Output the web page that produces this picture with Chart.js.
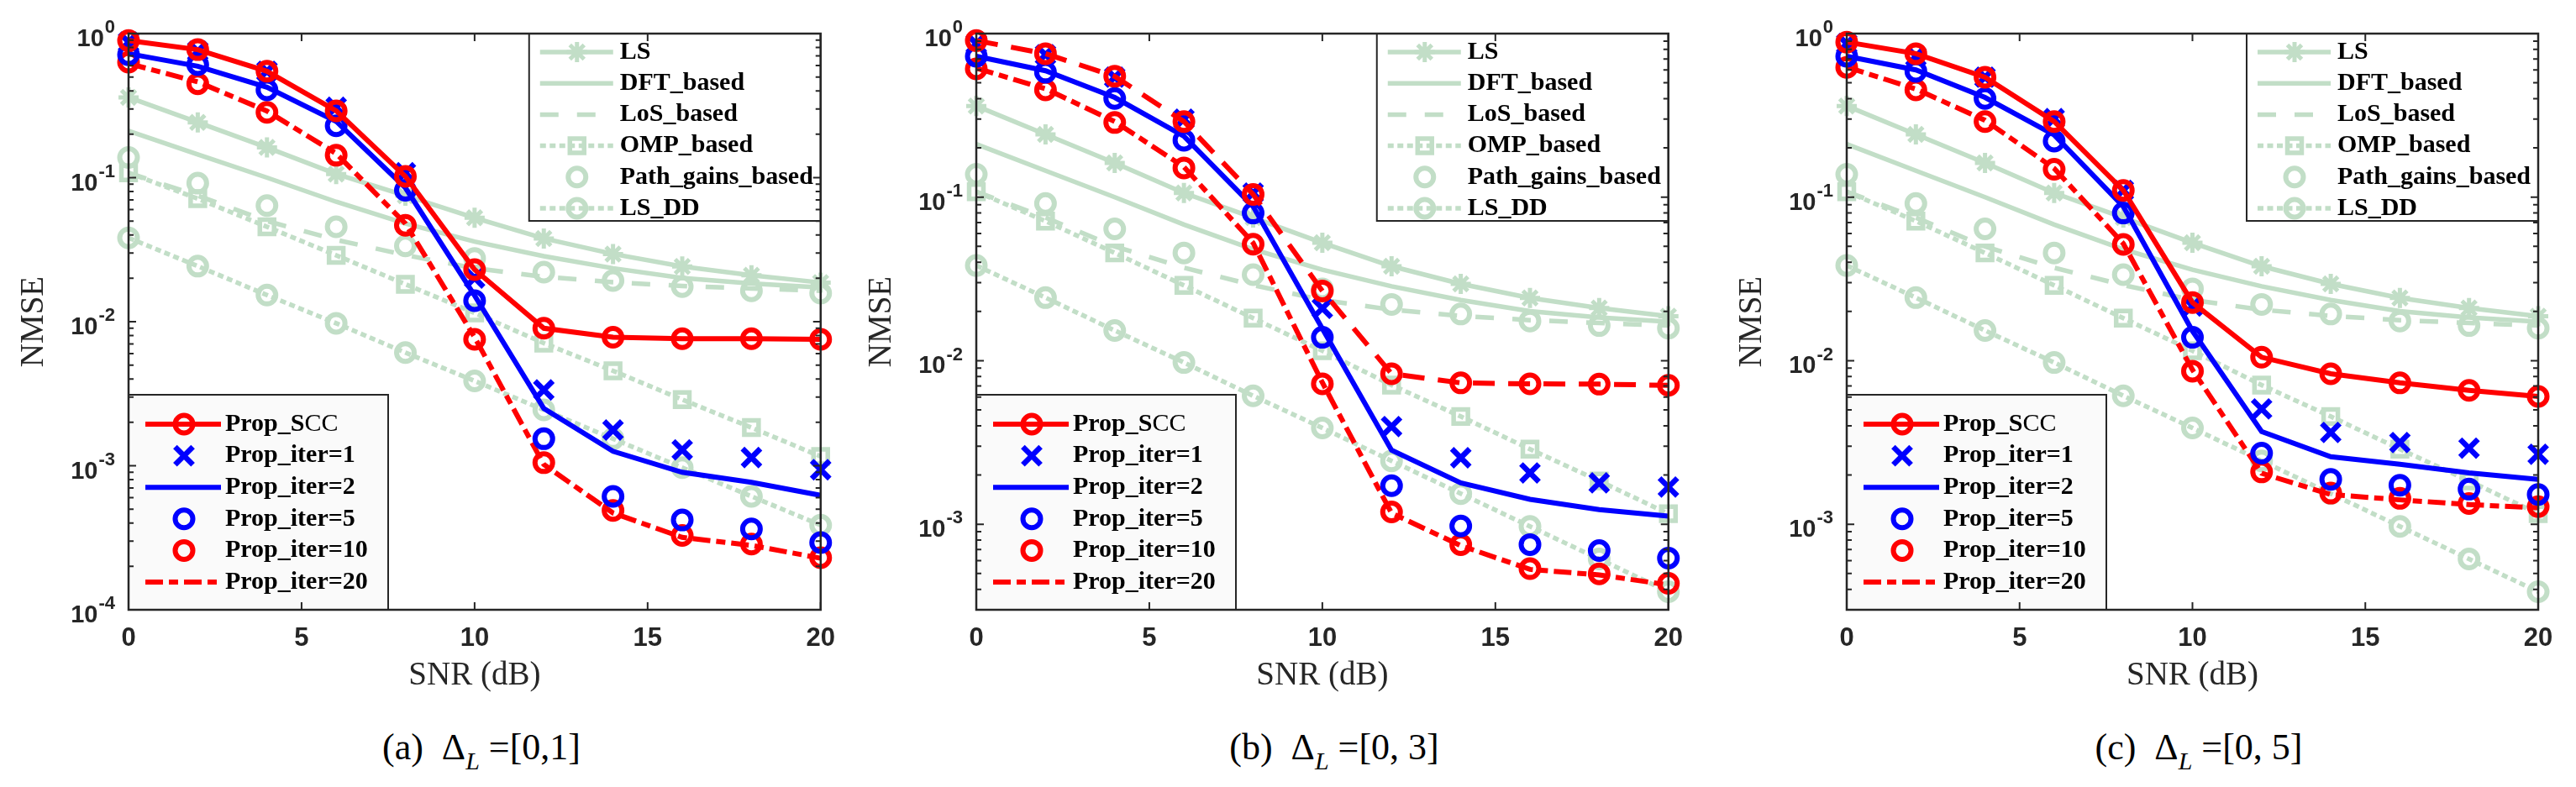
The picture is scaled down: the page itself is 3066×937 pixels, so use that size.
<!DOCTYPE html>
<html>
<head>
<meta charset="utf-8">
<title>NMSE versus SNR</title>
<script src="https://cdn.jsdelivr.net/npm/chart.js@4.4.1/dist/chart.umd.min.js"></script>
<style>
    html, body { margin: 0; padding: 0; background: #ffffff; }
    body { position: relative; width: 3066px; height: 937px; overflow: hidden; }
    .panel { position: absolute; top: 0; width: 1010px; height: 840px; }
    .caption {
        position: absolute;
        top: 866px;
        transform: translateX(-50%);
        font-family: "Liberation Serif", serif;
        font-size: 44px;
        line-height: 48px;
        color: #000000;
        white-space: pre;
    }
    .caption sub { font-size: 30px; font-style: italic; vertical-align: -12px; line-height: 0; }
</style>
</head>
<body>
<div class="panel" id="panel-a"><canvas id="chart-a" width="1010" height="840"></canvas></div>
<div class="panel" id="panel-b"><canvas id="chart-b" width="1010" height="840"></canvas></div>
<div class="panel" id="panel-c"><canvas id="chart-c" width="1010" height="840"></canvas></div>

<script>
// SNR axis (dB)
const snrDb = [0, 2, 4, 6, 8, 10, 12, 14, 16, 18, 20];

// Baselines (same curves in every panel)
const nmseLS        = [0.361, 0.242, 0.162, 0.106, 0.075, 0.0526, 0.0378, 0.0295, 0.0242, 0.0210, 0.0187];
const nmseDFT       = [0.211, 0.145, 0.100, 0.068, 0.048, 0.036, 0.0285, 0.0235, 0.0201, 0.0184, 0.0173];
const nmseLoS       = [0.108, 0.075, 0.050, 0.037, 0.029, 0.0235, 0.0205, 0.0188, 0.0177, 0.0170, 0.0164];
const nmseOMP       = [0.108, 0.0714, 0.0456, 0.0289, 0.0182, 0.0115, 0.0071, 0.00456, 0.00288, 0.00184, 0.00116];
const nmsePathGains = [0.138, 0.0915, 0.0640, 0.0456, 0.0336, 0.0275, 0.0221, 0.0193, 0.0175, 0.0164, 0.0158];
const nmseLSDD      = [0.0382, 0.0243, 0.0153, 0.00975, 0.0061, 0.00388, 0.00244, 0.00154, 0.00097, 0.000613, 0.000387];

// Panel (a): Delta_L = [0,1]
const sccA    = [0.894, 0.774, 0.548, 0.291, 0.102, 0.0230, 0.00901, 0.00780, 0.00762, 0.00762, 0.00755];
const iter1A  = [0.873, 0.755, 0.548, 0.308, 0.108, 0.0201, 0.00336, 0.00177, 0.00129, 0.00114, 0.000938];
const iter2A  = [0.726, 0.594, 0.424, 0.246, 0.0851, 0.0152, 0.00250, 0.00126, 0.000901, 0.000767, 0.000623];
const iter5A  = [0.714, 0.608, 0.407, 0.229, 0.0818, 0.0140, 0.00154, 0.000613, 0.000420, 0.000364, 0.000293];
const iter10A = [0.633, 0.449, 0.284, 0.143, 0.0467, 0.00755, 0.00105, 0.000490, 0.000328, 0.000286, 0.000230];
const iter20A = [0.620, 0.462, 0.290, 0.147, 0.0480, 0.00780, 0.00102, 0.000470, 0.000318, 0.000280, 0.000228];

// Panel (b): Delta_L = [0,3]
const sccB    = [0.906, 0.754, 0.548, 0.290, 0.104, 0.0267, 0.00832, 0.00732, 0.00722, 0.00719, 0.00707];
const iter1B  = [0.868, 0.743, 0.541, 0.300, 0.106, 0.0209, 0.00396, 0.00255, 0.00206, 0.00179, 0.00169];
const iter2B  = [0.727, 0.593, 0.407, 0.236, 0.0877, 0.0157, 0.00284, 0.00179, 0.00142, 0.00123, 0.00112];
const iter5B  = [0.727, 0.580, 0.401, 0.223, 0.0800, 0.0139, 0.00172, 0.000976, 0.000751, 0.000690, 0.000621];
const iter10B = [0.609, 0.453, 0.286, 0.151, 0.0516, 0.00722, 0.00119, 0.000751, 0.000535, 0.000498, 0.000435];
const iter20B = [0.615, 0.460, 0.290, 0.153, 0.0525, 0.00735, 0.00117, 0.000740, 0.000530, 0.000490, 0.000426];

// Panel (c): Delta_L = [0,5]
const sccC    = [0.887, 0.754, 0.541, 0.290, 0.110, 0.0227, 0.0105, 0.00832, 0.00732, 0.00659, 0.00605];
const iter1C  = [0.868, 0.727, 0.541, 0.302, 0.110, 0.0216, 0.00507, 0.00364, 0.00316, 0.00292, 0.00268];
const iter2C  = [0.727, 0.600, 0.407, 0.240, 0.0877, 0.0152, 0.00369, 0.00259, 0.00233, 0.00206, 0.00188];
const iter5C  = [0.727, 0.588, 0.401, 0.220, 0.0800, 0.0139, 0.00272, 0.00188, 0.00173, 0.00164, 0.00152];
const iter10C = [0.622, 0.453, 0.290, 0.148, 0.0514, 0.00863, 0.00209, 0.00155, 0.00144, 0.00134, 0.00128];
const iter20C = [0.625, 0.458, 0.295, 0.150, 0.0520, 0.00880, 0.00205, 0.00152, 0.00141, 0.00132, 0.00126];

// Axis ranges, tick labels and captions
const yMinByPanel = [1e-4, 3e-4, 3e-4];
const yMax = 1;
const yTickExponents = [-4, -3, -2, -1, 0];
const captionTags = ['(a)', '(b)', '(c)'];
const captionRanges = ['[0,1]', '[0, 3]', '[0, 5]'];

const GREEN = 'rgb(194, 222, 199)';
const RED = '#ff0000';
const BLUE = '#0000ff';
const INK = '#262626';
const NONE = 'rgba(0,0,0,0)';

/**
 * Turn a value list into {x, y} points on the SNR axis
 */
function series(values) {
    return snrDb.map((snr, i) => ({ x: snr, y: values[i] }));
}

/**
 * Light green reference curves
 */
function baselineDatasets() {
    const common = {
        borderColor: GREEN,
        pointBorderColor: GREEN,
        pointBackgroundColor: NONE,
        borderWidth: 5.5,
        pointRadius: 0,
        order: 2,
        clip: false
    };
    return [
        { ...common, label: 'LS', data: series(nmseLS), pointStyle: 'star', pointRadius: 12, pointBorderWidth: 5 },
        { ...common, label: 'DFT_based', data: series(nmseDFT) },
        { ...common, label: 'LoS_based', data: series(nmseLoS), borderDash: [22, 22] },
        { ...common, label: 'OMP_based', data: series(nmseOMP), borderDash: [7, 4.5], pointStyle: 'rect', pointRadius: 12, pointBorderWidth: 5.5 },
        { ...common, label: 'Path_gains_based', data: series(nmsePathGains), showLine: false, pointStyle: 'circle', pointRadius: 10.5, pointBorderWidth: 6 },
        { ...common, label: 'LS_DD', data: series(nmseLSDD), borderDash: [7, 4.5], pointStyle: 'circle', pointRadius: 10.5, pointBorderWidth: 6 }
    ];
}

/**
 * Proposed-method curves for one panel
 */
function proposedDatasets(scc, it1, it2, it5, it10, it20, sccDash) {
    const common = { pointBackgroundColor: NONE, borderWidth: 6, pointRadius: 0, order: 1, clip: false };
    return [
        { ...common, label: 'Prop_SCC', legendParts: [['Prop_S', 'bold'], ['CC', 'normal']], data: series(scc),
          borderColor: RED, pointBorderColor: RED, borderDash: sccDash, legendDash: [],
          pointStyle: 'circle', pointRadius: 10.5, pointBorderWidth: 6 },
        { ...common, label: 'Prop_iter=1', data: series(it1), showLine: false, borderColor: BLUE, pointBorderColor: BLUE,
          pointStyle: 'crossRot', pointRadius: 15, pointBorderWidth: 6.5 },
        { ...common, label: 'Prop_iter=2', data: series(it2), borderColor: BLUE },
        { ...common, label: 'Prop_iter=5', data: series(it5), showLine: false, borderColor: BLUE, pointBorderColor: BLUE,
          pointStyle: 'circle', pointRadius: 10.5, pointBorderWidth: 6 },
        { ...common, label: 'Prop_iter=10', data: series(it10), showLine: false, borderColor: RED, pointBorderColor: RED,
          pointStyle: 'circle', pointRadius: 10.5, pointBorderWidth: 6 },
        { ...common, label: 'Prop_iter=20', data: series(it20), borderColor: RED, borderDash: [21, 7, 11, 7] }
    ];
}

/**
 * Legend boxes drawn inside the plot area (MATLAB style)
 */
const boxLegend = {
    id: 'boxLegend',
    afterDatasetsDraw(chart, args, opts) {
        const { ctx, chartArea: area } = chart;
        opts.boxes.forEach(box => {
            const left = box.anchor === 'topRight' ? area.right - box.width : area.left;
            const top = box.anchor === 'topRight' ? area.top : area.bottom - box.height;
            ctx.save();
            ctx.fillStyle = box.background;
            ctx.fillRect(left, top, box.width, box.height);
            ctx.strokeStyle = INK;
            ctx.lineWidth = 2;
            ctx.strokeRect(left, top, box.width, box.height);

            box.items.forEach((idx, row) => {
                const ds = chart.data.datasets[idx];
                const cy = top + box.firstRow + row * box.rowGap;
                // sample line
                if (ds.showLine !== false) {
                    ctx.save();
                    ctx.strokeStyle = ds.borderColor;
                    ctx.lineWidth = ds.borderWidth;
                    ctx.setLineDash(ds.legendDash || ds.borderDash || []);
                    ctx.beginPath();
                    ctx.moveTo(left + box.lineFrom, cy);
                    ctx.lineTo(left + box.lineTo, cy);
                    ctx.stroke();
                    ctx.restore();
                }
                // sample marker
                if (ds.pointRadius > 0) {
                    ctx.save();
                    ctx.setLineDash([]);
                    ctx.strokeStyle = ds.pointBorderColor;
                    ctx.fillStyle = NONE;
                    ctx.lineWidth = ds.pointBorderWidth;
                    Chart.helpers.drawPoint(ctx, {
                        pointStyle: ds.pointStyle,
                        radius: ds.pointRadius,
                        borderWidth: ds.pointBorderWidth,
                        rotation: 0
                    }, left + box.markerAt, cy);
                    ctx.restore();
                }
                // label text
                const parts = ds.legendParts || [[ds.label, 'bold']];
                let tx = left + box.textAt;
                ctx.fillStyle = '#000000';
                ctx.textBaseline = 'middle';
                ctx.textAlign = 'left';
                parts.forEach(([text, weight]) => {
                    ctx.font = `${weight} 30px "Liberation Serif"`;
                    ctx.fillText(text, tx, cy);
                    tx += ctx.measureText(text).width;
                });
            });
            ctx.restore();
        });
    }
};

/**
 * Axes box, inward ticks and 10^n tick labels
 */
const axesFrame = {
    id: 'axesFrame',
    afterDraw(chart) {
        const { ctx, chartArea: area, scales: { x, y } } = chart;
        ctx.save();
        ctx.strokeStyle = INK;
        ctx.lineWidth = 2;
        ctx.beginPath();
        // x ticks, bottom and top
        x.ticks.forEach(t => {
            const px = x.getPixelForValue(t.value);
            ctx.moveTo(px, area.bottom); ctx.lineTo(px, area.bottom - 9);
            ctx.moveTo(px, area.top); ctx.lineTo(px, area.top + 9);
        });
        // y ticks (major and minor), left and right
        for (let e = -5; e <= 0; e++) {
            for (let m = 1; m <= 9; m++) {
                const v = m * Math.pow(10, e);
                if (v < y.min * 0.999 || v > y.max * 1.001) continue;
                const py = y.getPixelForValue(v);
                const len = m === 1 ? 9 : 6;
                ctx.moveTo(area.left, py); ctx.lineTo(area.left + len, py);
                ctx.moveTo(area.right, py); ctx.lineTo(area.right - len, py);
            }
        }
        ctx.stroke();
        ctx.lineWidth = 2.5;
        ctx.strokeRect(area.left, area.top, area.right - area.left, area.bottom - area.top);

        // y tick labels: "10" with a raised exponent
        ctx.fillStyle = INK;
        ctx.textBaseline = 'middle';
        ctx.textAlign = 'right';
        yTickExponents.forEach(e => {
            const v = Math.pow(10, e);
            if (v < y.min * 0.999 || v > y.max * 1.001) return;
            const py = y.getPixelForValue(v);
            const expText = String(e);
            ctx.font = 'bold 22px "Liberation Sans"';
            const expRight = area.left - 16;
            ctx.fillText(expText, expRight, py - 7);
            const expWidth = ctx.measureText(expText).width;
            ctx.font = 'bold 29px "Liberation Sans"';
            ctx.fillText('10', expRight - expWidth - 1, py + 7);
        });
        ctx.restore();
    }
};

/**
 * Build one subplot
 */
function makePanel(canvasId, plotLeft, plotWidth, yMin, datasets) {
    const canvas = document.getElementById(canvasId);
    const holder = canvas.parentElement;
    holder.style.left = (plotLeft - 153) + 'px';

    new Chart(canvas, {
        type: 'line',
        data: { datasets },
        plugins: [boxLegend, axesFrame],
        options: {
            responsive: false,
            animation: false,
            events: [],
            layout: {
                autoPadding: false,
                padding: { left: 0, top: 40, right: 1010 - 153 - plotWidth, bottom: 0 }
            },
            elements: { line: { tension: 0 } },
            scales: {
                x: {
                    type: 'linear',
                    min: 0,
                    max: 20,
                    grid: { display: false, drawTicks: false },
                    border: { display: false },
                    ticks: {
                        stepSize: 5,
                        padding: 16,
                        color: INK,
                        font: { family: 'Liberation Sans', size: 31, weight: 'bold' }
                    },
                    title: {
                        display: true,
                        text: 'SNR (dB)',
                        color: INK,
                        font: { family: 'Liberation Serif', size: 39 },
                        padding: { top: 0, bottom: 12 }
                    },
                    afterFit(scale) { scale.height = 840 - 726; }
                },
                y: {
                    type: 'logarithmic',
                    min: yMin,
                    max: yMax,
                    grid: { display: false, drawTicks: false },
                    border: { display: false },
                    ticks: { display: false },
                    title: {
                        display: true,
                        text: 'NMSE',
                        color: INK,
                        font: { family: 'Liberation Serif', size: 39 },
                        padding: { top: 17, bottom: 0 }
                    },
                    afterFit(scale) { scale.width = 153; }
                }
            },
            plugins: {
                legend: { display: false },
                tooltip: { enabled: false },
                boxLegend: {
                    boxes: [
                        { items: [0, 1, 2, 3, 4, 5], anchor: 'topRight', width: 347, height: 223, background: '#ffffff',
                          firstRow: 22, rowGap: 37.2, lineFrom: 13, lineTo: 100, markerAt: 57, textAt: 108 },
                        { items: [6, 7, 8, 9, 10, 11], anchor: 'bottomLeft', width: 309, height: 256, background: '#fafafa',
                          firstRow: 35, rowGap: 37.6, lineFrom: 20, lineTo: 110, markerAt: 66, textAt: 115 }
                    ]
                }
            }
        }
    });
}

/**
 * Sub-figure captions under each panel
 */
function addCaptions(centers) {
    centers.forEach((cx, i) => {
        const div = document.createElement('div');
        div.className = 'caption';
        div.style.left = cx + 'px';
        div.innerHTML = `${captionTags[i]}  \u0394<sub>L</sub> =${captionRanges[i]}`;
        document.body.appendChild(div);
    });
}

document.addEventListener('DOMContentLoaded', function() {
    Chart.defaults.font.family = 'Liberation Sans';

    makePanel('chart-a', 153, 824, yMinByPanel[0],
        baselineDatasets().concat(proposedDatasets(sccA, iter1A, iter2A, iter5A, iter10A, iter20A, [])));
    makePanel('chart-b', 1162, 824, yMinByPanel[1],
        baselineDatasets().concat(proposedDatasets(sccB, iter1B, iter2B, iter5B, iter10B, iter20B, [26, 16])));
    makePanel('chart-c', 2198, 823, yMinByPanel[2],
        baselineDatasets().concat(proposedDatasets(sccC, iter1C, iter2C, iter5C, iter10C, iter20C, [])));

    addCaptions([573, 1588, 2617]);
});
</script>
</body>
</html>
